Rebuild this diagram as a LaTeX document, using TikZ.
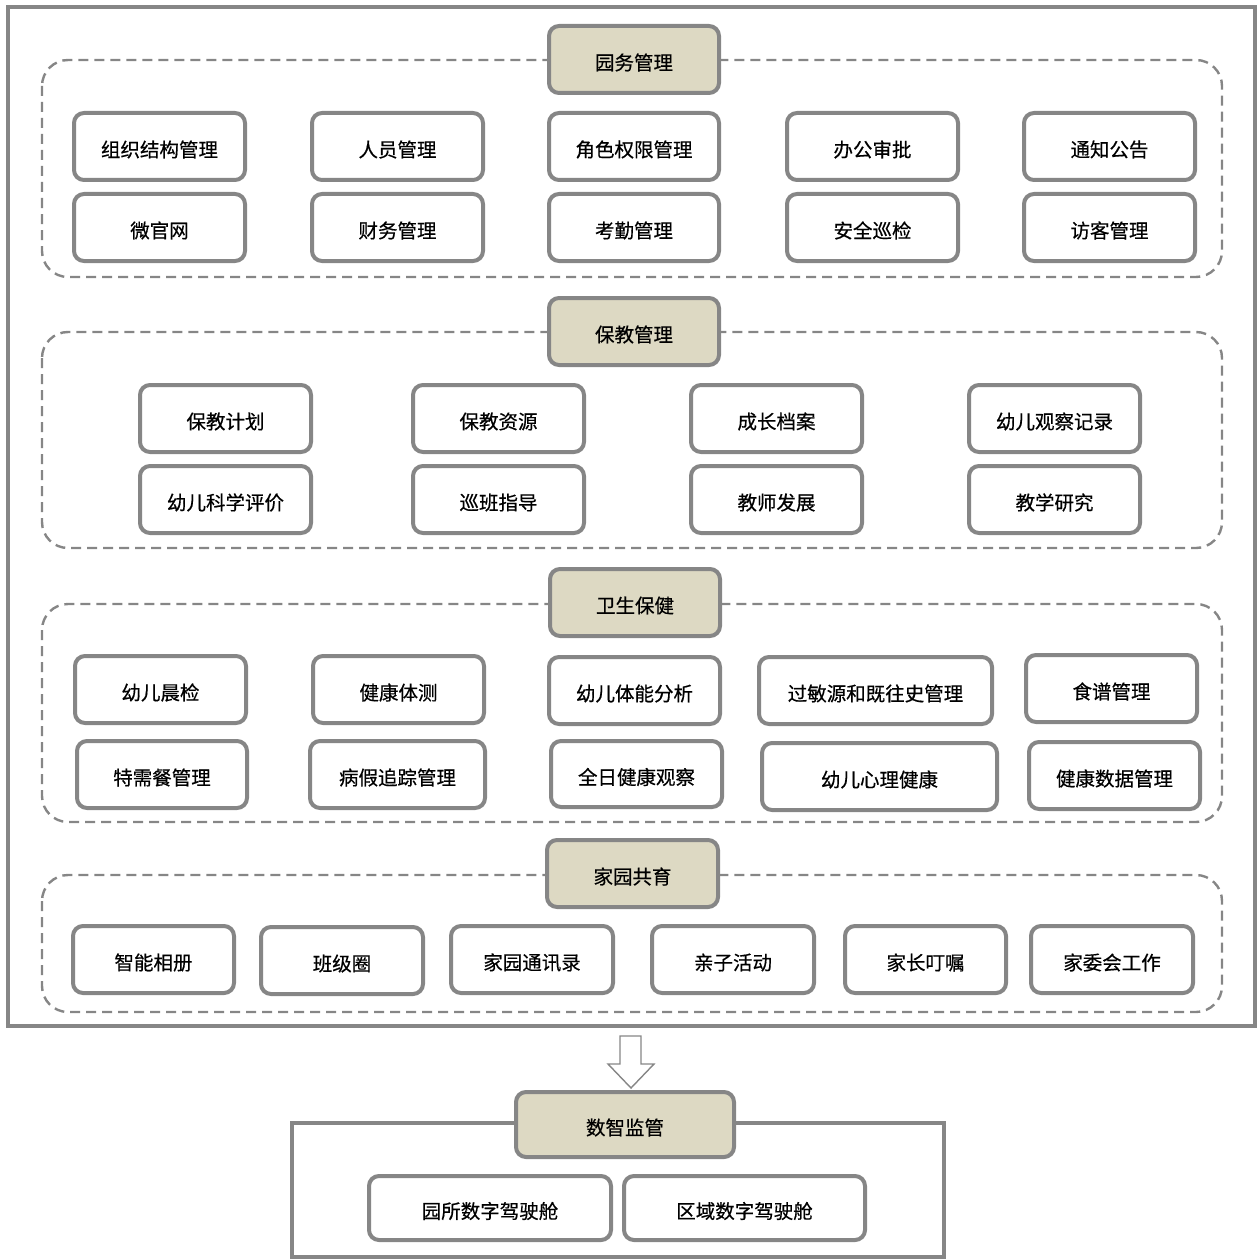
\documentclass[tikz,border=0pt]{standalone}
\usepackage{fontspec}
\setmainfont{Noto Sans CJK SC}[FakeBold=0.5]
\begin{document}
\begin{tikzpicture}[x=1pt,y=-1pt,
  frame/.style={draw=gray!95, line width=4pt},
  grp/.style={draw=gray!95, line width=2.4pt, dash pattern=on 10pt off 6pt, rounded corners=26pt},
  item/.style={draw=gray!95, line width=4pt, rounded corners=10pt, fill=white, inner sep=0pt},
  head/.style={item, fill=headfill},
  lbl/.style={font=\fontsize{19.5}{19.5}\selectfont, text=black}]
\definecolor{headfill}{HTML}{DDD9C3}
\useasboundingbox (0,0) rectangle (1258,1260);
% outer frame
\draw[frame] (8,7) rectangle (1255,1026);
% groups
\draw[grp] (42,60) rectangle (1222,277);
\draw[grp] (42,332) rectangle (1222,548);
\draw[grp] (42,604) rectangle (1222,822);
\draw[grp] (42,875) rectangle (1222,1012);
% helper: \bx{name}{x1}{y1}{x2}{y2}{style}{text}
\newcommand{\bx}[7]{\draw[#6] (#2,#3) rectangle (#4,#5); \node[lbl] (#1) at ({(#2+#4)/2},{(#3+#5)/2+3}) {#7};}
% group 1
\bx{h1}{549}{26}{719}{93}{head}{园务管理}
\bx{a1}{74}{113}{245}{180}{item}{组织结构管理}
\bx{a2}{312}{113}{483}{180}{item}{人员管理}
\bx{a3}{549}{113}{719}{180}{item}{角色权限管理}
\bx{a4}{787}{113}{958}{180}{item}{办公审批}
\bx{a5}{1024}{113}{1195}{180}{item}{通知公告}
\bx{a6}{74}{194}{245}{261}{item}{微官网}
\bx{a7}{312}{194}{483}{261}{item}{财务管理}
\bx{a8}{549}{194}{719}{261}{item}{考勤管理}
\bx{a9}{787}{194}{958}{261}{item}{安全巡检}
\bx{a10}{1024}{194}{1195}{261}{item}{访客管理}
% group 2
\bx{h2}{549}{298}{719}{365}{head}{保教管理}
\bx{b1}{140}{385}{311}{452}{item}{保教计划}
\bx{b2}{413}{385}{584}{452}{item}{保教资源}
\bx{b3}{691}{385}{862}{452}{item}{成长档案}
\bx{b4}{969}{385}{1140}{452}{item}{幼儿观察记录}
\bx{b5}{140}{466}{311}{533}{item}{幼儿科学评价}
\bx{b6}{413}{466}{584}{533}{item}{巡班指导}
\bx{b7}{691}{466}{862}{533}{item}{教师发展}
\bx{b8}{969}{466}{1140}{533}{item}{教学研究}
% group 3
\bx{h3}{550}{569}{720}{636}{head}{卫生保健}
\bx{c1}{75}{656}{246}{723}{item}{幼儿晨检}
\bx{c2}{313}{656}{484}{723}{item}{健康体测}
\bx{c3}{549}{657}{720}{724}{item}{幼儿体能分析}
\bx{c4}{759}{657}{992}{724}{item}{过敏源和既往史管理}
\bx{c5}{1026}{655}{1197}{722}{item}{食谱管理}
\bx{c6}{77}{741}{247}{808}{item}{特需餐管理}
\bx{c7}{310}{741}{485}{808}{item}{病假追踪管理}
\bx{c8}{551}{741}{722}{807}{item}{全日健康观察}
\bx{c9}{762}{743}{997}{810}{item}{幼儿心理健康}
\bx{c10}{1029}{742}{1200}{809}{item}{健康数据管理}
% group 4
\bx{h4}{547}{840}{718}{907}{head}{家园共育}
\bx{d1}{73}{926}{234}{993}{item}{智能相册}
\bx{d2}{261}{927}{423}{994}{item}{班级圈}
\bx{d3}{451}{926}{613}{993}{item}{家园通讯录}
\bx{d4}{652}{926}{814}{993}{item}{亲子活动}
\bx{d5}{845}{926}{1006}{993}{item}{家长叮嘱}
\bx{d6}{1031}{926}{1193}{993}{item}{家委会工作}
% arrow
\draw[draw=gray!95, line width=1.4pt, fill=white, line join=miter]
  (620,1036) -- (641,1036) -- (641,1064) -- (654,1064) -- (631,1088) -- (608,1064) -- (620,1064) -- cycle;
% bottom frame
\draw[frame] (292,1123) rectangle (944,1257);
\bx{h5}{516}{1092}{734}{1157}{head}{数智监管}
\bx{e1}{369}{1176}{611}{1240}{item}{园所数字驾驶舱}
\bx{e2}{624}{1176}{865}{1240}{item}{区域数字驾驶舱}
\end{tikzpicture}
\end{document}
